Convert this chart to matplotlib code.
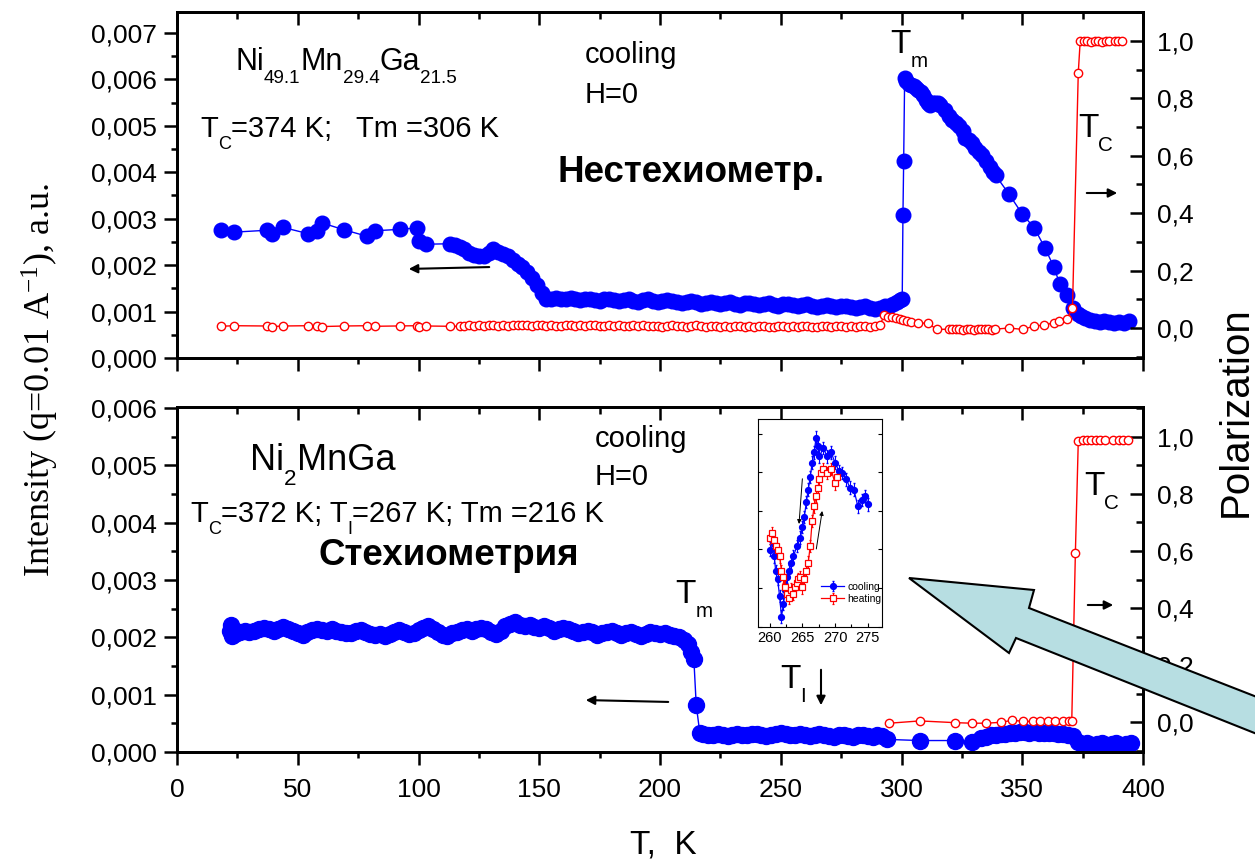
import matplotlib
matplotlib.use("Agg")
import matplotlib.pyplot as plt
from matplotlib.ticker import MultipleLocator, FuncFormatter
from matplotlib.patches import Polygon, FancyArrowPatch

plt.rcParams['font.family'] = ['Liberation Sans', 'DejaVu Sans']
plt.rcParams['mathtext.fontset'] = 'custom'
plt.rcParams['mathtext.rm'] = 'Liberation Sans'
plt.rcParams['mathtext.it'] = 'Liberation Sans:italic'
plt.rcParams['mathtext.bf'] = 'Liberation Sans:bold'
plt.rcParams['mathtext.default'] = 'regular'

W, H = 1255, 859

# ---- top panel: Ni49.1Mn29.4Ga21.5, intensity (left axis) ----
TOP_INT_T = [18.1, 23.7, 37.1, 39.2, 44.0, 54.1, 57.8, 59.9, 69.2, 78.8, 82.0, 92.3, 99.2, 100.0, 103.3, 113.0,
             115, 117, 119, 121, 123, 125, 127, 129, 131, 133,
             135, 137, 139, 141, 143, 145, 147, 149, 151, 153,
             155, 157, 159, 161, 163, 165, 167, 169, 171, 173,
             175, 177, 179, 181, 183, 185, 187, 189, 191, 193,
             195, 197, 199, 201, 203, 205, 207, 209, 211, 213,
             215, 217, 219, 221, 223, 225, 227, 229, 231, 233,
             235, 237, 239, 241, 243, 245, 247, 249, 251, 253,
             255, 257, 259, 261, 263, 265, 267, 269, 271, 273,
             275, 277, 279, 281, 283, 285, 287, 289, 291, 293,
             295,
             296.5, 298, 299.5, 300.3, 300.6, 300.9, 301.3, 302, 303, 304,
             305, 306, 307, 308, 309, 310, 311, 312, 313, 314,
             315, 316, 318, 319.7, 321, 322.5, 324, 325.5, 326.5, 328,
             329, 330.5, 332, 333.5, 335, 336.5, 338, 339, 344.5, 350,
             355, 359.4, 363, 365.5, 368.5, 371, 373, 374.5, 376, 378,
             380, 382, 384, 386, 388, 390, 392, 394]
TOP_INT = [0.00275, 0.00271, 0.00275, 0.00266, 0.00281, 0.00268, 0.00274, 0.00291, 0.00276, 0.00262,
           0.00274, 0.00277, 0.00280, 0.00252, 0.00245, 0.00246,
           0.00244, 0.00238, 0.00234, 0.00226, 0.00222, 0.00220, 0.00219, 0.00226, 0.00234, 0.00228,
           0.00224, 0.00220, 0.00210, 0.00202, 0.00195, 0.00186, 0.00172, 0.00157, 0.00140, 0.00126,
           0.00128, 0.00130, 0.00127, 0.00126, 0.00129, 0.00127, 0.00124, 0.00126, 0.00128, 0.00125,
           0.00123, 0.00126, 0.00127, 0.00124, 0.00122, 0.00125, 0.00126, 0.00123, 0.00121, 0.00124,
           0.00126, 0.00123, 0.00120, 0.00122, 0.00125, 0.00123, 0.00120, 0.00118, 0.00121, 0.00123,
           0.00120, 0.00117, 0.00119, 0.00121, 0.00118, 0.00116, 0.00119, 0.00120, 0.00117, 0.00115,
           0.00118, 0.00119, 0.00116, 0.00114, 0.00117, 0.00118, 0.00115, 0.00113, 0.00116, 0.00117,
           0.00114, 0.00112, 0.00114, 0.00116, 0.00113, 0.00110, 0.00113, 0.00115, 0.00112, 0.00109,
           0.00111, 0.00113, 0.00110, 0.00107, 0.00109, 0.00112, 0.00108, 0.00105, 0.00108, 0.00111,
           0.00112,
           0.00116, 0.00120, 0.00124, 0.00128, 0.00308, 0.00425, 0.00603, 0.00596, 0.00590, 0.00588,
           0.00585, 0.00582, 0.00578, 0.00572, 0.00566, 0.00556, 0.00548, 0.00544, 0.00548, 0.00550,
           0.00548, 0.00545, 0.00535, 0.00522, 0.00512, 0.00507, 0.00500, 0.00488, 0.00474, 0.00470,
           0.00462, 0.00452, 0.00443, 0.00438, 0.00425, 0.00412, 0.00400, 0.00393, 0.00353, 0.00310,
           0.00280, 0.00237, 0.00197, 0.00160, 0.00136, 0.00107, 0.00095, 0.00090, 0.00086, 0.00082,
           0.00080, 0.00078, 0.00080, 0.00077, 0.00076, 0.00077, 0.00075, 0.00080]

# ---- top panel: polarization (right axis) ----
TOP_POL_T = [18.1, 23.7, 37.1, 39.2, 44.0, 54.1, 57.8, 59.9, 69.2, 78.8, 82.0, 92.3, 99.2, 100.0, 103.3, 113.0,
             117, 119, 121, 123, 125, 127, 129, 131, 133, 135,
             137, 139, 141, 143, 145, 147, 149, 151, 153, 155,
             157, 159, 161, 163, 165, 167, 169, 171, 173, 175,
             177, 179, 181, 183, 185, 187, 189, 191, 193, 195,
             197, 199, 201, 203, 205, 207, 209, 211, 213, 215,
             217, 219, 221, 223, 225, 227, 229, 231, 233, 235,
             237, 239, 241, 243, 245, 247, 249, 251, 253, 255,
             257, 259, 261, 263, 265, 267, 269, 271, 273, 275,
             277, 279, 281, 283, 285, 287, 289, 291,
             292.9, 294.5, 296, 297.6, 299.2, 300.7, 302.3, 303.9, 307, 311,
             314.7, 319.7, 321, 322.5, 324, 325.5, 327, 328.5, 330, 331.5,
             333, 334.5, 336, 337.5, 338.7, 344.5, 350.3, 355, 359, 363,
             365.3, 368.4, 370.8, 373.2, 374, 375.5, 377, 378.5, 380, 381.5,
             383, 384.6, 386, 388.3, 389.8, 391.3]
TOP_POL = [0.006, 0.008, 0.007, 0.005, 0.007, 0.008, 0.006, 0.005, 0.007, 0.008,
           0.006, 0.007, 0.008, 0.005, 0.007, 0.006,
           0.006, 0.008, 0.009, 0.007, 0.010, 0.008, 0.011, 0.009, 0.007, 0.010,
           0.008, 0.011, 0.009, 0.012, 0.010, 0.008, 0.011, 0.009, 0.007, 0.010,
           0.008, 0.006, 0.009, 0.011, 0.008, 0.010, 0.007, 0.009, 0.011, 0.008,
           0.006, 0.009, 0.007, 0.010, 0.008, 0.006, 0.009, 0.007, 0.010, 0.008,
           0.006, 0.008, 0.005, 0.007, 0.009, 0.006, 0.008, 0.005, 0.007, 0.009,
           0.006, 0.004, 0.007, 0.008, 0.005, 0.007, 0.004, 0.006, 0.008, 0.005,
           0.007, 0.004, 0.006, 0.008, 0.005, 0.003, 0.006, 0.008, 0.005, 0.007,
           0.004, 0.006, 0.008, 0.005, 0.003, 0.006, 0.007, 0.004, 0.006, 0.008,
           0.005, 0.007, 0.004, 0.006, 0.008, 0.005, 0.007, 0.009,
           0.045, 0.040, 0.038, 0.035, 0.032, 0.028, 0.025, 0.022, 0.018, 0.016,
           -0.005, -0.004, -0.002, -0.005, -0.003, -0.006, -0.002, -0.004, -0.006, -0.003,
           -0.005, -0.002, -0.004, -0.006, -0.004, 0.000, -0.005, 0.007, 0.010, 0.018,
           0.025, 0.030, 0.069, 0.890, 1.000, 1.000, 1.000, 0.998, 1.000, 1.000,
           0.998, 1.000, 1.000, 1.000, 1.000, 1.000]

# ---- bottom panel: Ni2MnGa, intensity (left axis) ----
BOT_INT_T = [22, 22.4, 22.8, 24, 26, 28, 30, 32, 34, 36, 38, 40,
             42, 44, 46, 48, 50, 52, 54, 56, 58, 60,
             62, 64, 66, 68, 70, 72, 74, 76, 78, 80,
             82, 84, 86, 88, 90, 92, 94, 96, 98, 100,
             102, 104, 106, 108, 110, 112, 114, 116, 118, 120,
             122, 124, 126, 128, 130, 132, 134, 136, 138, 140,
             142, 144, 146, 148, 150, 152, 154, 156, 158, 160,
             162, 164, 166, 168, 170, 172, 174, 176, 178, 180,
             182, 184, 186, 188, 190, 192, 194, 196, 198, 200,
             202, 204, 206, 208, 210, 211.5, 213, 214, 215, 216.5,
             218, 220, 222, 224, 226, 228, 230, 232, 234, 236,
             238, 240, 242, 244, 246, 248, 250, 252, 254, 256,
             258, 260, 262, 264, 266, 268, 270, 272, 274, 276,
             278, 280, 282, 284, 286, 288, 290, 292, 294,
             307.6, 322, 329,
             333, 335, 337, 339, 341, 343, 345, 347, 349, 351,
             353, 355, 357, 359, 361, 363, 365, 367, 369, 371,
             373, 375, 377, 379, 381, 383, 385, 387, 389, 391, 393, 395]
BOT_INT = [0.00212, 0.00221, 0.00202, 0.00206, 0.00210, 0.00212, 0.00209, 0.00212, 0.00214, 0.00216, 0.00214, 0.00211,
           0.00215, 0.00218, 0.00214, 0.00211, 0.00208, 0.00205, 0.00209, 0.00213, 0.00215, 0.00213,
           0.00211, 0.00214, 0.00212, 0.00209, 0.00207, 0.00208, 0.00211, 0.00213, 0.00210, 0.00206,
           0.00204, 0.00206, 0.00203, 0.00206, 0.00210, 0.00213, 0.00210, 0.00206, 0.00208, 0.00213,
           0.00217, 0.00219, 0.00214, 0.00210, 0.00205, 0.00203, 0.00207, 0.00210, 0.00213, 0.00215,
           0.00212, 0.00214, 0.00217, 0.00214, 0.00209, 0.00206, 0.00212, 0.00220, 0.00224, 0.00226,
           0.00222, 0.00219, 0.00221, 0.00218, 0.00216, 0.00219, 0.00216, 0.00212, 0.00214, 0.00217,
           0.00215, 0.00212, 0.00208, 0.00210, 0.00212, 0.00209, 0.00205, 0.00207, 0.00210, 0.00212,
           0.00208, 0.00205, 0.00207, 0.00209, 0.00206, 0.00203, 0.00206, 0.00210, 0.00208, 0.00206,
           0.00208, 0.00205, 0.00203, 0.00200, 0.00195, 0.00188, 0.00175, 0.00163, 0.00082, 0.00033,
           0.00031, 0.00029, 0.00030, 0.00032, 0.00030, 0.00028, 0.00030, 0.00031, 0.00029, 0.00030,
           0.00032, 0.00031, 0.00029, 0.00028, 0.00030, 0.00032, 0.00033, 0.00031, 0.00029, 0.00030,
           0.00031, 0.00029, 0.00028, 0.00030, 0.00031, 0.00030, 0.00028, 0.00027, 0.00029, 0.00030,
           0.00028, 0.00027, 0.00029, 0.00030, 0.00028, 0.00027, 0.00029, 0.00028, 0.00022,
           0.00020, 0.00020, 0.00017,
           0.00024, 0.00027, 0.00029, 0.00030, 0.00031, 0.00032, 0.00033, 0.00034, 0.00035, 0.00035,
           0.00034, 0.00035, 0.00034, 0.00033, 0.00034, 0.00033, 0.00032, 0.00031, 0.00030, 0.00028,
           0.00018, 0.00014, 0.00015, 0.00013, 0.00014, 0.00015, 0.00013, 0.00014, 0.00015, 0.00013, 0.00014, 0.00016]

# ---- bottom panel: polarization (right axis) ----
BOT_POL_T = [295, 307.6, 322, 329, 335, 341, 345.7, 350.3, 354.3, 357.4,
             360.6, 363.7, 366.9, 369.2, 370.5, 372, 373.2, 375.2, 377, 378.5,
             380.5, 382.3, 384.1, 387.6, 389.9, 391.7, 393.7]
BOT_POL = [-0.004, 0.004, -0.002, -0.004, -0.004, -0.001, 0.006, 0.003, 0.002, 0.004,
           0.004, 0.003, 0.004, 0.003, 0.004, 0.594, 0.985, 0.990, 0.988, 0.990,
           0.990, 0.988, 0.990, 0.990, 0.988, 0.990, 0.990]

# ---- inset (arbitrary units) ----
INSET_T_COOL = [260.1, 260.4, 260.7, 260.9, 261.2, 261.5, 261.8, 262.1, 262.4, 262.7,
                263.0, 263.3, 263.6, 264.2, 264.7, 265.0, 265.3, 265.6, 265.9, 266.2,
                266.5, 266.8, 267.1, 267.4, 267.6, 268.2, 268.8, 269.4, 270.0, 270.6,
                271.1, 271.7, 272.3, 272.9, 273.5, 274.1, 274.6, 275.1]
INSET_COOL = [0.37, 0.42, 0.34, 0.27, 0.23, 0.15, 0.05, 0.11, 0.18, 0.24,
              0.27, 0.31, 0.34, 0.39, 0.43, 0.48, 0.53, 0.60, 0.66, 0.72,
              0.79, 0.84, 0.91, 0.87, 0.82, 0.86, 0.82, 0.84, 0.79, 0.75,
              0.74, 0.71, 0.67, 0.66, 0.58, 0.61, 0.63, 0.59]
INSET_T_HEAT = [260.1, 260.4, 260.7, 260.9, 261.2, 261.5, 261.8, 262.1, 262.4, 262.7,
                263.0, 263.3, 263.6, 263.9, 264.2, 264.4, 264.7, 265.0, 265.3, 265.6,
                265.9, 266.2, 266.5, 266.8, 267.1, 267.4, 267.6, 267.9, 268.2, 268.8,
                269.4, 270.0, 270.3]
INSET_HEAT = [0.43, 0.45, 0.42, 0.39, 0.37, 0.34, 0.27, 0.24, 0.19, 0.16,
              0.14, 0.18, 0.16, 0.19, 0.21, 0.23, 0.24, 0.19, 0.23, 0.27,
              0.31, 0.39, 0.51, 0.58, 0.63, 0.67, 0.71, 0.74, 0.76, 0.74,
              0.76, 0.69, 0.72]
INSET_ERR = 0.03

X_TICKS = [0, 50, 100, 150, 200, 250, 300, 350, 400]


def comma(fmt):
    def f(v, _):
        if abs(v) < 1e-12:
            v = 0.0
        return fmt.format(v).replace(".", ",")
    return FuncFormatter(f)


def style_panel(ax, ax2, ymax, rlim, labels):
    ax.set_xlim(0, 400)
    ax.set_ylim(0, ymax)
    ax2.set_ylim(*rlim)
    ax.set_xticks(X_TICKS)
    ax.xaxis.set_minor_locator(MultipleLocator(25))
    ax.yaxis.set_major_locator(MultipleLocator(0.001))
    ax.yaxis.set_minor_locator(MultipleLocator(0.0005))
    ax.yaxis.set_major_formatter(comma("{:.3f}"))
    ax2.yaxis.set_major_locator(MultipleLocator(0.2))
    ax2.yaxis.set_minor_locator(MultipleLocator(0.1))
    ax2.yaxis.set_major_formatter(comma("{:.1f}"))

    ax.tick_params(axis='both', which='both', direction='out', width=1.8,
                   labelsize=19, top=False, right=False)
    ax.tick_params(which='major', length=9.5)
    ax.tick_params(which='minor', length=4.5)
    ax.tick_params(axis='y', pad=5)
    ax.tick_params(axis='x', pad=9, labelbottom=labels)

    ax2.xaxis.set_visible(True)
    ax2.tick_params(axis='x', which='both', direction='in', bottom=False, top=True,
                    labelbottom=False, labeltop=False, width=1.8)
    ax2.tick_params(axis='y', which='both', direction='in', width=1.8,
                    labelsize=19, pad=10)
    ax2.tick_params(which='major', length=9.5)
    ax2.tick_params(which='minor', length=5)
    for a in (ax, ax2):
        for sp in a.spines.values():
            sp.set_linewidth(2.0)


fig = plt.figure(figsize=(W / 100, H / 100), dpi=100)
renderer = fig.canvas.get_renderer()


def ftext(x, y, s, **kw):
    kw.setdefault('va', 'baseline')
    return fig.text(x / W, 1 - y / H, s, **kw)


def rich(x, y, parts, size, **kw):
    # text with Origin-style subscripts: smaller and dropped well below the baseline
    for s, sub in parts:
        fs = size * 0.62 if sub else size
        dy = 0.42 * size * 100 / 72 if sub else 0
        t = ftext(x, y + dy, s, fontsize=fs, **kw)
        x += t.get_window_extent(renderer).width


def farrow(x0, y0, x1, y1):
    fig.add_artist(FancyArrowPatch((x0 / W, 1 - y0 / H), (x1 / W, 1 - y1 / H),
                                   transform=fig.transFigure, arrowstyle='-|>',
                                   mutation_scale=13, lw=1.5, color='black'))


# top panel
ax_t = fig.add_axes([177 / W, 1 - 358 / H, 966 / W, 346 / H])
ax_t2 = ax_t.twinx()
ax_t.plot(TOP_INT_T, TOP_INT, '-o', color='blue', lw=1, ms=10.5, mec='blue')
ax_t2.plot(TOP_POL_T, TOP_POL, '-o', color='red', lw=1, ms=6, mfc='white', mew=1)
style_panel(ax_t, ax_t2, 0.00745, (-0.1045, 1.101), False)

# bottom panel
ax_b = fig.add_axes([177 / W, 1 - 752 / H, 966 / W, 345 / H])
ax_b2 = ax_b.twinx()
ax_b.plot(BOT_INT_T, BOT_INT, '-o', color='blue', lw=1, ms=11.5, mec='blue')
ax_b2.plot(BOT_POL_T, BOT_POL, '-o', color='red', lw=1, ms=6, mfc='white', mew=1)
style_panel(ax_b, ax_b2, 0.00602, (-0.105, 1.105), True)

# inset
ax_in = fig.add_axes([758 / W, 1 - 627 / H, 124 / W, 208 / H])
ax_in.set_zorder(5)
ax_in.errorbar(INSET_T_COOL, INSET_COOL, yerr=INSET_ERR, fmt='-o', color='blue',
               ms=4.2, lw=0.9, elinewidth=0.8, capsize=1, label='cooling')
ax_in.errorbar(INSET_T_HEAT, INSET_HEAT, yerr=INSET_ERR, fmt='-s', color='red',
               mfc='white', ms=4, mew=0.9, lw=0.9, elinewidth=0.8, capsize=1,
               label='heating')
ax_in.set_xlim(258.2, 277.2)
ax_in.set_ylim(0, 1)
ax_in.set_xticks([260, 265, 270, 275])
ax_in.xaxis.set_minor_locator(MultipleLocator(2.5))
ax_in.set_yticks([0.0, 0.187, 0.375, 0.56, 0.747, 0.93])
ax_in.tick_params(which='both', direction='in', labelsize=10.5, right=True,
                  labelleft=False, length=3, width=0.8, pad=3)
ax_in.tick_params(which='minor', length=2)
for sp in ax_in.spines.values():
    sp.set_linewidth(0.8)
ax_in.legend(loc='lower right', bbox_to_anchor=(1.03, 0.09), fontsize=7.5,
             frameon=False, handlelength=2.2, handletextpad=0.3,
             labelspacing=0.25, borderpad=0.2, borderaxespad=0.2)
ax_in.annotate('', xy=(264.45, 0.482), xytext=(265.03, 0.726),
               arrowprops=dict(arrowstyle='-|>', lw=0.7, color='black', mutation_scale=6))
ax_in.annotate('', xy=(268.1, 0.571), xytext=(267.07, 0.362),
               arrowprops=dict(arrowstyle='-|>', lw=0.7, color='black', mutation_scale=6))

# axis titles
fig.text(40 / W, 1 - 380 / H, 'Intensity (q=0.01 A$^{-1}$), a.u.', rotation=90,
         ha='center', va='center', family='Liberation Serif', fontsize=26,
         math_fontfamily='stix')
fig.text(1236 / W, 1 - 412 / H, 'Polarization', rotation=90, ha='center',
         va='center', fontsize=29)
ftext(663, 853, 'T,  K', ha='center', fontsize=24)

# top panel annotations
rich(235, 70, [('Ni', 0), ('49.1', 1), ('Mn', 0), ('29.4', 1), ('Ga', 0), ('21.5', 1)], 22)
rich(200, 137, [('T', 0), ('C', 1), ('=374 K;   Tm =306 K', 0)], 21)
ftext(585, 63, 'cooling', fontsize=21)
ftext(585, 103, 'H=0', fontsize=21)
ftext(558, 182, 'Нестехиометр.', fontsize=26.5, fontweight='bold')
rich(890, 53, [('T', 0), ('m', 1)], 24)
rich(1078, 137, [('T', 0), ('C', 1)], 24)
farrow(492, 267, 406, 269)
farrow(1084, 193, 1120, 193)

# bottom panel annotations
rich(250, 470, [('Ni', 0), ('2', 1), ('MnGa', 0)], 26)
rich(190, 522, [('T', 0), ('C', 1), ('=372 K; T', 0), ('I', 1),
                ('=267 K; Tm =216 K', 0)], 21)
ftext(318, 565, 'Стехиометрия', fontsize=26.5, fontweight='bold')
ftext(595, 447, 'cooling', fontsize=21)
ftext(595, 485, 'H=0', fontsize=21)
rich(675, 603, [('T', 0), ('m', 1)], 24)
rich(780, 688, [('T', 0), ('I', 1)], 24)
rich(1084, 495, [('T', 0), ('C', 1)], 24)
farrow(671, 702, 583, 700)
farrow(1085, 605, 1116, 605)
farrow(821, 667, 821, 708)

# big highlight arrow pointing at the inset
ARROW_PX = [(909, 578), (1034, 590), (1029, 608), (1262, 699),
            (1262, 736), (1016, 638), (1009, 653)]
fig.add_artist(Polygon([(x / W, 1 - y / H) for x, y in ARROW_PX], closed=True,
                       transform=fig.transFigure, facecolor='#b7dee2',
                       edgecolor='black', lw=1.5, zorder=20))

fig.savefig('out.png', dpi=100)
